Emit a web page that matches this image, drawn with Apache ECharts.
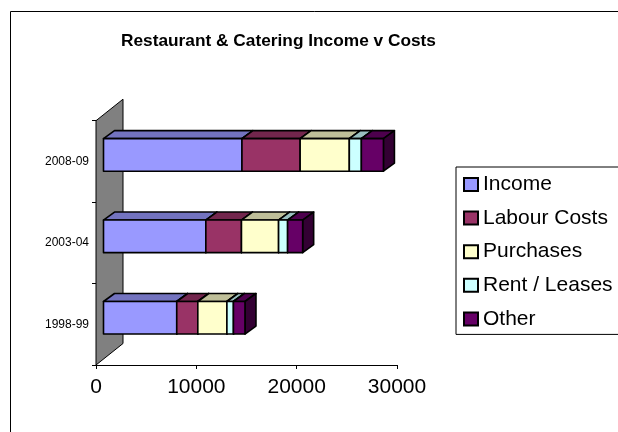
<!DOCTYPE html>
<html>
<head>
<meta charset="utf-8">
<script src="https://cdn.jsdelivr.net/npm/echarts@6/dist/echarts.min.js"></script>
<style>
html,body{margin:0;padding:0;background:#fff;}
#chart{width:618px;height:432px;}
</style>
</head>
<body>
<div id="chart"></div>
<script>
var categories = ['1998-99', '2003-04', '2008-09'];
var seriesNames = ['Income', 'Labour Costs', 'Purchases', 'Rent / Leases', 'Other'];
var income = [7300, 10200, 13800];
var labour = [2100, 3550, 5800];
var purchases = [2900, 3700, 4900];
var rent = [650, 900, 1200];
var other = [1150, 1500, 2200];
var valueTicks = [0, 10000, 20000, 30000];
var colors = ['#9999ff', '#993366', '#ffffcc', '#ccffff', '#660066'];

var FONT = 'Liberation Sans, Arial, sans-serif';
// 3d look: front face shift from the axis, and bar depth
var FX = 7.5, FY = -6.5, DX = 11, DY = -8;
var WALL_DX = 27, WALL_DY = -21.5;

function shade(hex, k){
	var n = parseInt(hex.slice(1), 16);
	var r = Math.round(((n >> 16) & 255) * k);
	var g = Math.round(((n >> 8) & 255) * k);
	var b = Math.round((n & 255) * k);
	return 'rgb(' + r + ',' + g + ',' + b + ')';
}

function renderBar(color){
	return function(params, api){
		var cat = api.value(2);
		var p0 = api.coord([api.value(0), cat]);
		var p1 = api.coord([api.value(1), cat]);
		var band = api.size([0, 1])[1];
		var h = band * 0.4;
		var x0 = p0[0] + FX, x1 = p1[0] + FX;
		var yT = p0[1] + FY - h / 2, yB = yT + h;
		var line = {stroke: '#000', lineWidth: 1.6, lineJoin: 'round'};
		return {
			type: 'group',
			children: [
				{type: 'polygon', shape: {points: [[x0, yT], [x1, yT], [x1 + DX, yT + DY], [x0 + DX, yT + DY]]},
					style: Object.assign({fill: shade(color, 0.75)}, line)},
				{type: 'polygon', shape: {points: [[x1, yT], [x1 + DX, yT + DY], [x1 + DX, yB + DY], [x1, yB]]},
					style: Object.assign({fill: shade(color, 0.5)}, line)},
				{type: 'rect', shape: {x: x0, y: yT, width: x1 - x0, height: h},
					style: Object.assign({fill: color}, line)}
			]
		};
	};
}

var values = [income, labour, purchases, rent, other];
var start = categories.map(function(){ return 0; });
var barSeries = values.map(function(arr, s){
	var data = arr.map(function(v, i){
		var item = [start[i], start[i] + v, i];
		start[i] += v;
		return item;
	});
	return {
		name: seriesNames[s],
		type: 'custom',
		clip: false,
		itemStyle: {color: colors[s]},
		encode: {x: [0, 1], y: 2},
		renderItem: renderBar(colors[s]),
		data: data
	};
});

var wallSeries = {
	name: 'wall',
	type: 'custom',
	clip: false,
	silent: true,
	encode: {x: 0, y: 1},
	data: [[0, 0]],
	renderItem: function(params, api){
		var c = params.coordSys;
		return {
			type: 'polygon',
			shape: {points: [[c.x, c.y], [c.x + WALL_DX, c.y + WALL_DY],
				[c.x + WALL_DX, c.y + c.height + WALL_DY], [c.x, c.y + c.height]]},
			style: {fill: '#808080', stroke: '#000', lineWidth: 1}
		};
	}
};

var chart = echarts.init(document.getElementById('chart'));
chart.setOption({
	backgroundColor: '#fff',
	animation: false,
	title: {
		text: 'Restaurant & Catering Income v Costs',
		left: 116,
		top: 28,
		textStyle: {fontFamily: FONT, fontSize: 17.3, fontWeight: 'bold', color: '#000'}
	},
	graphic: [{
		type: 'rect',
		shape: {x: 10.5, y: 11.5, width: 700, height: 500},
		style: {fill: 'none', stroke: '#000', lineWidth: 1},
		silent: true
	}],
	legend: {
		data: seriesNames,
		orient: 'vertical',
		left: 456,
		top: 167,
		padding: [7, 40, 5, 7],
		itemGap: 12.6,
		itemWidth: 14,
		itemHeight: 13,
		borderColor: '#000',
		borderWidth: 1,
		icon: 'rect',
		itemStyle: {borderColor: '#000', borderWidth: 2},
		textStyle: {fontFamily: FONT, fontSize: 21, color: '#000'}
	},
	grid: {left: 96, right: 221, top: 120.7, bottom: 67},
	xAxis: {
		type: 'value',
		min: valueTicks[0],
		max: valueTicks[valueTicks.length - 1],
		interval: valueTicks[1] - valueTicks[0],
		splitLine: {show: false},
		axisLine: {show: true, lineStyle: {color: '#000', width: 1}},
		axisTick: {show: true, length: 4, lineStyle: {color: '#000'}},
		axisLabel: {fontFamily: FONT, fontSize: 21, color: '#000', margin: 12,
			formatter: function(v){ return String(v); }}
	},
	yAxis: {
		type: 'category',
		data: categories,
		axisLine: {show: true, lineStyle: {color: '#000', width: 1}},
		axisTick: {show: true, length: 4, lineStyle: {color: '#000'}},
		axisLabel: {fontFamily: FONT, fontSize: 12, color: '#000', margin: 7}
	},
	series: [wallSeries].concat(barSeries)
});
</script>
</body>
</html>
